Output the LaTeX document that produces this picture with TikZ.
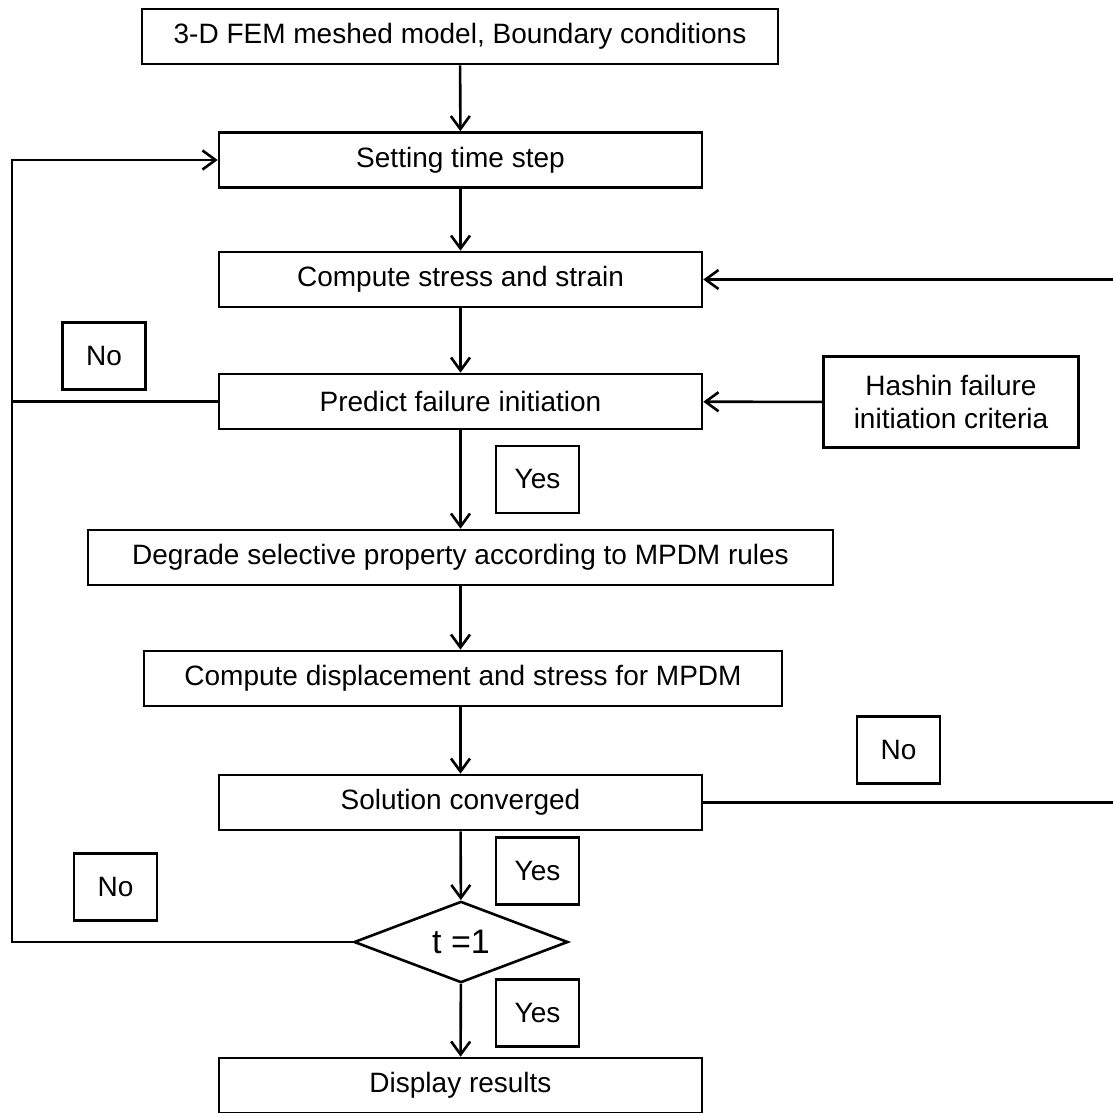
\documentclass[tikz,border=0pt]{standalone}
\usepackage{fontspec}
\setmainfont{Liberation Sans}
\usepackage{tikz}
\usetikzlibrary{arrows.meta,positioning,shapes.geometric,calc}

\begin{document}
\begin{tikzpicture}[x=0.5pt, y=-0.5pt, line width=1.3pt,
    every node/.style={font=\fontsize{14}{16.5}\selectfont},
    box/.style={draw, rectangle, inner sep=0pt, minimum height=27.5pt},
    lab/.style={draw, rectangle, inner sep=0pt, minimum width=41.5pt, minimum height=33.5pt},
    >={Straight Barb[length=6.5pt,width=9.5pt]}]
  \useasboundingbox (0,0) rectangle (1113,1113);
  \node[box, minimum width=318pt]   (model)  at (460,36.5)   {3-D FEM meshed model, Boundary conditions};
  \node[box, minimum width=241.5pt] (tstep)  at (460.5,160)  {Setting time step};
  \node[box, minimum width=241.5pt] (stress) at (460.5,279.5) {Compute stress and strain};
  \node[box, minimum width=241.5pt] (pred)   at (460.5,401.5) {Predict failure initiation};
  \node[box, minimum width=127.5pt, minimum height=45.5pt, align=center]
                                    (hashin) at (951,402)    {Hashin failure\\initiation criteria};
  \node[box, minimum width=372.5pt] (degr)   at (460.5,557.5) {Degrade selective property according to MPDM rules};
  \node[box, minimum width=319pt]   (displ)  at (463,678.5)  {Compute displacement and stress for MPDM};
  \node[box, minimum width=241.5pt] (conv)   at (460.5,802.5) {Solution converged};
  \node[draw, diamond, inner sep=0pt, minimum width=107pt, minimum height=34pt,
        font=\fontsize{17}{20}\selectfont] (tchk) at (461,942) {t =1};
  \node[box, minimum width=241.5pt] (disp)   at (460.5,1085.5) {Display results};
  % yes / no tags
  \node[lab] (no1)  at (104,356)    {No};
  \node[lab] (yes1) at (537.5,479.5) {Yes};
  \node[lab] (no2)  at (898.5,750)  {No};
  \node[lab] (yes2) at (537.5,871)  {Yes};
  \node[lab] (no3)  at (115.5,887)  {No};
  \node[lab] (yes3) at (537.5,1013) {Yes};
  \coordinate (lft) at (12,942);
  \coordinate (rgt) at (1113,802.5);
  \draw[->] (model) -- (tstep);
  \draw[->] (tstep) -- (stress);
  \draw[->] (stress) -- (pred);
  \draw[->] (pred) -- (degr);
  \draw[->] (degr.south) -- (degr.south |- displ.north);
  \draw[->] (conv.north |- displ.south) -- (conv);
  \draw[->] (conv) -- (tchk);
  \draw[->] (tchk) -- (disp);
  \draw[->] (hashin) -- (pred);
  \draw[->] (tchk.west) -- (lft) |- (tstep.west);
  \draw (pred.west) -- (lft |- pred.west);
  \draw (conv.east) -- (rgt);
  \draw[->] (rgt |- stress.east) -- (stress.east);
\end{tikzpicture}
\end{document}
